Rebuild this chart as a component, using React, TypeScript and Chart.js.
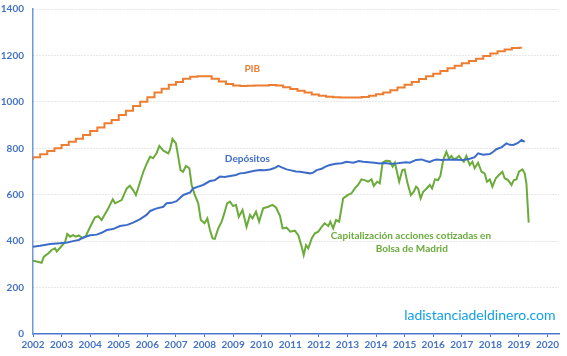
import React, { useEffect, useRef } from "react";
import { Chart, registerables } from "chart.js";

Chart.register(...registerables);

// ---------- DATA ----------
const yearTicks = [2002, 2003, 2004, 2005, 2006, 2007, 2008, 2009, 2010, 2011, 2012, 2013, 2014, 2015, 2016, 2017, 2018, 2019, 2020];

// PIB (quarterly, stepped)
const pibDates = [
  2002, 2002.25, 2002.5, 2002.75, 2003, 2003.25, 2003.5, 2003.75,
  2004, 2004.25, 2004.5, 2004.75, 2005, 2005.25, 2005.5, 2005.75,
  2006, 2006.25, 2006.5, 2006.75, 2007, 2007.25, 2007.5, 2007.75,
  2008, 2008.25, 2008.5, 2008.75, 2009, 2009.25, 2009.5, 2009.75,
  2010, 2010.25, 2010.5, 2010.75, 2011, 2011.25, 2011.5, 2011.75,
  2012, 2012.25, 2012.5, 2012.75, 2013, 2013.25, 2013.5, 2013.75,
  2014, 2014.25, 2014.5, 2014.75, 2015, 2015.25, 2015.5, 2015.75,
  2016, 2016.25, 2016.5, 2016.75, 2017, 2017.25, 2017.5, 2017.75,
  2018, 2018.25, 2018.5, 2018.75, 2019, 2019.1,
];
const pibValues = [
  750, 761, 774, 788, 800, 814, 828, 841,
  857, 874, 890, 908, 922, 943, 962, 982,
  1001, 1020, 1040, 1057, 1074, 1086, 1100, 1108,
  1110, 1110, 1100, 1088, 1077, 1070, 1068, 1069,
  1070, 1071, 1073, 1070, 1063, 1055, 1048, 1040,
  1032, 1026, 1022, 1020, 1019, 1019, 1019, 1021,
  1026, 1033, 1040, 1050, 1062, 1074, 1086, 1098,
  1110, 1121, 1133, 1145, 1156, 1166, 1176, 1186,
  1198, 1208, 1218, 1226, 1232, 1233,
];

// Depósitos
const depDates = [
  2002, 2002.25, 2002.6, 2002.94, 2003.2, 2003.4, 2003.6, 2003.76,
  2004, 2004.23, 2004.4, 2004.58, 2004.8, 2005.04, 2005.3, 2005.5, 2005.75, 2005.97,
  2006.1, 2006.3, 2006.56, 2006.67, 2006.85, 2007.02, 2007.26, 2007.5, 2007.6, 2007.78, 2007.95,
  2008.19, 2008.35, 2008.54, 2008.7, 2008.9, 2009.1, 2009.24, 2009.4, 2009.59, 2009.75, 2009.94,
  2010.1, 2010.29, 2010.45, 2010.58, 2010.7, 2010.87, 2010.99, 2011.2, 2011.34, 2011.5, 2011.69, 2011.8, 2011.92,
  2012.1, 2012.25, 2012.38, 2012.6, 2012.8, 2012.97, 2013.2, 2013.4, 2013.55, 2013.75, 2013.95,
  2014.13, 2014.3, 2014.5, 2014.72, 2014.9, 2015.05, 2015.18, 2015.4, 2015.59, 2015.75, 2015.88,
  2016, 2016.11, 2016.3, 2016.58, 2016.8, 2017.05, 2017.28, 2017.45, 2017.57, 2017.75, 2017.98,
  2018.1, 2018.21, 2018.4, 2018.56, 2018.68, 2018.8, 2018.95, 2019.09, 2019.2,
];
const depValues = [
  376, 380, 388, 391, 394, 400, 405, 416,
  425, 428, 436, 448, 452, 465, 470, 480, 495, 513,
  530, 540, 548, 563, 565, 572, 599, 610, 627, 635, 642,
  659, 662, 678, 676, 681, 685, 692, 694, 699, 703, 706,
  705, 709, 715, 724, 718, 709, 706, 700, 699, 696, 692, 695, 706,
  712, 722, 728, 733, 736, 742, 738, 745, 742, 740, 738,
  735, 737, 733, 735, 738, 740, 738, 750, 752, 745, 741,
  748, 752, 750, 752, 751, 750, 755, 762, 778, 772, 775,
  785, 796, 805, 821, 815, 814, 822, 836, 828,
];

// Capitalización acciones cotizadas en Bolsa de Madrid
const capDates = [
  2002, 2002.13, 2002.3, 2002.38, 2002.54, 2002.65, 2002.77, 2002.83,
  2003, 2003.12, 2003.2, 2003.3, 2003.4, 2003.5, 2003.6, 2003.74, 2003.85,
  2004, 2004.17, 2004.28, 2004.4, 2004.63, 2004.79, 2004.87,
  2005.1, 2005.28, 2005.39, 2005.5, 2005.6, 2005.86,
  2006, 2006.1, 2006.2, 2006.32, 2006.42, 2006.56, 2006.73, 2006.79, 2006.88,
  2007, 2007.08, 2007.16, 2007.25, 2007.35, 2007.47, 2007.55, 2007.66, 2007.78, 2007.87,
  2008, 2008.1, 2008.19, 2008.28, 2008.36, 2008.48, 2008.6, 2008.71, 2008.79, 2008.89,
  2009, 2009.1, 2009.2, 2009.33, 2009.47, 2009.59, 2009.68, 2009.8, 2009.91,
  2010.05, 2010.23, 2010.38, 2010.5, 2010.64, 2010.73, 2010.87,
  2011, 2011.16, 2011.28, 2011.4, 2011.47, 2011.55, 2011.63, 2011.75, 2011.86, 2011.98,
  2012.1, 2012.2, 2012.33, 2012.4, 2012.5, 2012.6, 2012.71, 2012.85,
  2013.02, 2013.14, 2013.26, 2013.37, 2013.49, 2013.6, 2013.72, 2013.84, 2013.92,
  2014.04, 2014.13, 2014.23, 2014.34, 2014.48, 2014.58, 2014.66, 2014.81, 2014.92,
  2015, 2015.1, 2015.22, 2015.32, 2015.4, 2015.47, 2015.56, 2015.65, 2015.77, 2015.88, 2015.96,
  2016.06, 2016.17, 2016.25, 2016.35, 2016.46, 2016.55, 2016.64, 2016.72, 2016.81, 2016.9, 2016.99,
  2017.07, 2017.16, 2017.28, 2017.37, 2017.45, 2017.57, 2017.69, 2017.8, 2017.88, 2017.98,
  2018.07, 2018.19, 2018.3, 2018.42, 2018.5, 2018.62, 2018.74, 2018.82, 2018.91,
  2019, 2019.12, 2019.2, 2019.26, 2019.34,
];
const capValues = [
  316, 312, 307, 333, 348, 362, 369, 355,
  379, 395, 431, 419, 426, 419, 425, 412, 422,
  462, 503, 508, 491, 541, 580, 563,
  577, 627, 639, 620, 599, 699,
  740, 764, 757, 778, 810, 790, 778, 793, 841,
  821, 764, 706, 699, 724, 714, 642, 599, 563, 491,
  477, 498, 448, 412, 410, 455, 484, 527, 563, 570,
  551, 556, 505, 534, 462, 513, 498, 527, 484,
  541, 548, 556, 545, 509, 455, 458,
  441, 445, 426, 376, 340, 383, 369, 412, 434, 441,
  462, 477, 465, 484, 455, 491, 484, 584,
  599, 606, 627, 642, 666, 663, 656, 666, 638,
  656, 649, 738, 746, 745, 721, 738, 656, 706,
  709, 650, 598, 613, 635, 627, 584, 613, 627, 642, 627,
  666, 663, 681, 750, 785, 757, 767, 752, 757, 767, 752,
  742, 767, 728, 742, 714, 738, 699, 692, 656, 666,
  635, 671, 685, 699, 671, 663, 642, 663, 666,
  699, 709, 692, 649, 480,
];

const seriesNames = ["PIB", "Depósitos", "Capitalización acciones cotizadas en Bolsa de Madrid"];

// ---------- STYLE ----------
const ORANGE = "#ED7D31";
const BLUE = "#3D6CC8";
const GREEN = "#6AAB3A";
const TICK_BLUE = "#4472C4";
const WEB_BLUE = "#14A0E6";

const toXY = (xs: number[], ys: number[]) => xs.map((x, i) => ({ x, y: ys[i] }));

const labelsPlugin = {
  id: "textLabels",
  afterDatasetsDraw(chart: any) {
    const { ctx, scales } = chart;
    const xs = scales.x;
    const ys = scales.y;
    const put = (text: string, dx: number, dy: number, font: string, color: string) => {
      ctx.save();
      ctx.font = font;
      ctx.fillStyle = color;
      ctx.textAlign = "center";
      ctx.textBaseline = "middle";
      ctx.fillText(text, xs.getPixelForValue(dx), ys.getPixelForValue(dy));
      ctx.restore();
    };
    put("PIB", 2009.67, 1141, "bold 10px Lato", ORANGE);
    put("Depósitos", 2009.5, 754, "bold 10px Lato", BLUE);
    put("Capitalización acciones cotizadas en", 2015.22, 422, "bold 10px Lato", GREEN);
    put("Bolsa de Madrid", 2015.25, 366, "bold 10px Lato", GREEN);
    put("ladistanciadeldinero.com", 2017.63, 78, "14px Lato", WEB_BLUE);
  },
};

export default function App() {
  const ref = useRef<HTMLCanvasElement>(null);
  useEffect(() => {
    if (!ref.current) return;
    const chart = new Chart(ref.current, {
      type: "line",
      data: {
        datasets: [
          {
            label: seriesNames[0],
            data: toXY(pibDates, pibValues),
            borderColor: ORANGE,
            borderWidth: 2,
            pointRadius: 0,
            stepped: "after",
            fill: false,
          },
          {
            label: seriesNames[1],
            data: toXY(depDates, depValues),
            borderColor: BLUE,
            borderWidth: 2,
            pointRadius: 0,
            tension: 0,
            fill: false,
          },
          {
            label: seriesNames[2],
            data: toXY(capDates, capValues),
            borderColor: GREEN,
            borderWidth: 2,
            pointRadius: 0,
            tension: 0,
            fill: false,
          },
        ],
      },
      options: {
        animation: false,
        responsive: false,
        devicePixelRatio: 1,
        layout: { padding: { top: 9, right: 8, left: 0, bottom: 0 } },
        plugins: {
          legend: { display: false },
          tooltip: { enabled: false },
        },
        scales: {
          x: {
            type: "linear",
            min: 2002,
            max: 2020.4,
            afterFit: (s: any) => {
              s.height = 22;
              s.paddingLeft = 0;
              s.paddingRight = 0;
            },
            afterBuildTicks: (s: any) => {
              s.ticks = yearTicks.map((v) => ({ value: v }));
            },
            ticks: {
              autoSkip: false,
              maxRotation: 0,
              padding: 2,
              color: TICK_BLUE,
              font: { family: "Lato", size: 10, weight: "bold" },
              callback: (v: any) => String(v),
            },
            grid: {
              drawOnChartArea: false,
              color: TICK_BLUE,
              tickColor: TICK_BLUE,
              tickLength: 3,
            },
            border: { color: "#4A78CC", width: 1.5 },
          },
          y: {
            min: 0,
            max: 1400,
            afterFit: (s: any) => {
              s.width = 33;
              s.paddingTop = 0;
              s.paddingBottom = 0;
            },
            ticks: {
              stepSize: 200,
              padding: 9,
              color: TICK_BLUE,
              font: { family: "Lato", size: 10, weight: "bold" },
              callback: (v: any) => String(v),
            },
            grid: {
              drawTicks: false,
              color: (c: any) => (c.tick && c.tick.value === 0 ? "transparent" : "#CFCFCF"),
              lineWidth: 1,
            },
            border: { color: "#6F97DC", width: 1.5, dash: [1, 2] },
          },
        },
      },
      plugins: [labelsPlugin],
    });
    return () => chart.destroy();
  }, []);
  return (
    <div style={{ position: "fixed", left: 0, top: 0, width: 567, height: 356, background: "#fff" }}>
      <canvas ref={ref} width={567} height={356} />
    </div>
  );
}
